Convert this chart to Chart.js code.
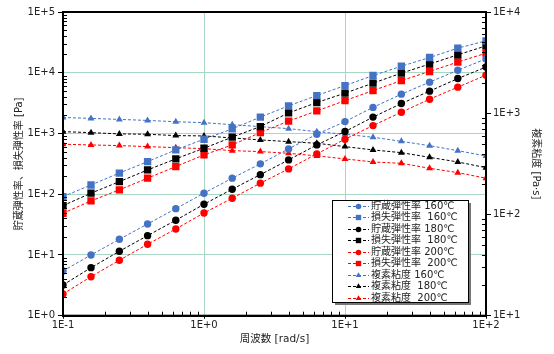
<!DOCTYPE html>
<html>
<head>
<meta charset="utf-8">
<script src="https://cdn.jsdelivr.net/npm/chart.js@4/dist/chart.umd.min.js"></script>
<style>
  body { margin: 0; background: #fff; }
  #wrap { width: 554px; height: 354px; }
</style>
</head>
<body>
<div id="wrap"><canvas id="c"></canvas></div>
<script>
// 周波数 [rad/s]
const freq = [0.1, 0.158, 0.251, 0.398, 0.631, 1, 1.585, 2.51, 3.98, 6.31, 10, 15.8, 25.1, 39.8, 63.1, 100];

// 貯蔵弾性率 G' [Pa]
const gp160 = [5.45, 10.0, 18.1, 32.4, 57.9, 104, 184, 316, 557, 973, 1570, 2690, 4440, 7000, 11000, 16900];
const gp180 = [3.2, 6.18, 11.5, 20.8, 37.3, 68.4, 121, 210, 367, 648, 1075, 1860, 3110, 4980, 8020, 12400];
const gp200 = [2.28, 4.39, 8.18, 15.0, 26.8, 49.2, 85.9, 152, 261, 461, 805, 1349, 2240, 3670, 5790, 9120];

// 損失弾性率 G'' [Pa]
const gpp160 = [91.3, 142, 223, 344, 537, 805, 1190, 1860, 2850, 4210, 6150, 8990, 12800, 17800, 25400, 33500];
const gpp180 = [64.9, 104, 161, 251, 382, 572, 869, 1300, 2180, 3230, 4610, 6740, 9840, 13900, 19700, 27700];
const gpp200 = [48.6, 77.6, 118, 184, 285, 444, 648, 1035, 1600, 2350, 3480, 5090, 7430, 10500, 15000, 21000];

// 複素粘度 [Pa·s]
const eta160 = [908, 889, 869, 849, 824, 807, 771, 737, 704, 658, 620, 579, 528, 478, 427, 378];
const eta180 = [658, 643, 625, 620, 601, 597, 570, 545, 524, 505, 468, 434, 408, 367, 330, 290];
const eta200 = [494, 486, 479, 468, 457, 447, 427, 418, 402, 379, 354, 330, 320, 286, 259, 228];

const xTicks = [0.1, 1, 10, 100];
const yTicks = [1, 10, 100, 1000, 10000, 100000];
const y2Ticks = [10, 100, 1000, 10000];

const BLUE = '#4472c4', BLACK = '#000000', RED = '#ff0000';
const GRID = '#a8d8c4';
const FONT = 'DejaVu Sans, "Noto Sans CJK JP", sans-serif';

function pts(ys) {
    return freq.map((x, i) => ({ x: x, y: ys[i] }));
}

function series(label, ys, color, shape, axis) {
    const r = shape === 'rect' ? 5.2 : (shape === 'triangle' ? 4 : 3.7);
    return {
        label: label,
        data: pts(ys),
        yAxisID: axis,
        borderColor: color,
        backgroundColor: color,
        borderWidth: 1,
        borderDash: [3, 2],
        pointStyle: shape,
        pointRadius: r,
        pointHoverRadius: r,
        pointBorderWidth: 0,
        legendShape: shape
    };
}

const datasets = [
    series('貯蔵弾性率 160℃', gp160, BLUE, 'circle', 'y'),
    series('損失弾性率  160℃', gpp160, BLUE, 'rect', 'y'),
    series('貯蔵弾性率 180℃', gp180, BLACK, 'circle', 'y'),
    series('損失弾性率  180℃', gpp180, BLACK, 'rect', 'y'),
    series('貯蔵弾性率 200℃', gp200, RED, 'circle', 'y'),
    series('損失弾性率  200℃', gpp200, RED, 'rect', 'y'),
    series('複素粘度 160℃', eta160, BLUE, 'triangle', 'y2'),
    series('複素粘度  180℃', eta180, BLACK, 'triangle', 'y2'),
    series('複素粘度  200℃', eta200, RED, 'triangle', 'y2')
];

function expLabel(v) {
    const e = Math.round(Math.log10(v));
    return '1E' + (e < 0 ? '-' : '+') + Math.abs(e);
}

function setTicks(list) {
    return scale => { scale.ticks = list.map(v => ({ value: v })); };
}

// 枠線と補助目盛り
const framePlugin = {
    id: 'frame',
    afterDatasetsDraw(chart) {
        const ctx = chart.ctx;
        const a = chart.chartArea;
        const sx = chart.scales.x, sy = chart.scales.y, sy2 = chart.scales.y2;
        ctx.save();
        ctx.strokeStyle = '#000';
        ctx.lineWidth = 1;
        ctx.beginPath();
        for (let d = 0.1; d < 100; d *= 10) {
            for (let k = 2; k <= 9; k++) {
                const px = Math.round(sx.getPixelForValue(d * k)) + 0.5;
                ctx.moveTo(px, a.bottom);
                ctx.lineTo(px, a.bottom - 4);
            }
        }
        for (let d = 1; d < 100000; d *= 10) {
            for (let k = 2; k <= 9; k++) {
                const py = Math.round(sy.getPixelForValue(d * k)) + 0.5;
                ctx.moveTo(a.left, py);
                ctx.lineTo(a.left + 4, py);
            }
        }
        for (let d = 10; d < 10000; d *= 10) {
            for (let k = 2; k <= 9; k++) {
                const py = Math.round(sy2.getPixelForValue(d * k)) + 0.5;
                ctx.moveTo(a.right, py);
                ctx.lineTo(a.right - 4, py);
            }
        }
        ctx.stroke();
        ctx.lineWidth = 2;
        ctx.strokeRect(a.left, a.top, a.right - a.left, a.bottom - a.top);
        ctx.restore();
    }
};

// 凡例（グラフ内）
const legendBox = {
    id: 'legendBox',
    afterDraw(chart) {
        const ctx = chart.ctx;
        const x0 = 332, y0 = 200, w = 136, h = 102;
        ctx.save();
        ctx.fillStyle = '#777';
        ctx.fillRect(x0 + 3, y0 + 3, w, h);
        ctx.fillStyle = '#fff';
        ctx.fillRect(x0, y0, w, h);
        ctx.strokeStyle = '#000';
        ctx.lineWidth = 1;
        ctx.strokeRect(x0 + 0.5, y0 + 0.5, w, h);
        ctx.font = '10px ' + FONT;
        ctx.textBaseline = 'middle';
        chart.data.datasets.forEach((ds, i) => {
            const y = Math.round(y0 + 6 + i * 11.45) + 0.5;
            ctx.strokeStyle = ds.borderColor;
            ctx.setLineDash([3, 2]);
            ctx.beginPath();
            ctx.moveTo(348, y);
            ctx.lineTo(369, y);
            ctx.stroke();
            ctx.setLineDash([]);
            ctx.fillStyle = ds.borderColor;
            const r = ds.legendShape === 'rect' ? 3.8 : (ds.legendShape === 'triangle' ? 3.2 : 2.8);
            Chart.helpers.drawPoint(ctx, { pointStyle: ds.legendShape, radius: r, borderWidth: 0 }, 358.5, y);
            ctx.fillStyle = '#222';
            ctx.fillText(ds.label, 371, y);
        });
        ctx.restore();
    }
};

Chart.defaults.font.family = FONT;
Chart.defaults.color = '#222';

new Chart(document.getElementById('c'), {
    type: 'line',
    data: { datasets: datasets },
    options: {
        responsive: true,
        maintainAspectRatio: false,
        animation: false,
        layout: { padding: { top: 12, left: 0, right: 0, bottom: 0 } },
        plugins: {
            legend: { display: false },
            tooltip: { enabled: false }
        },
        scales: {
            x: {
                type: 'logarithmic',
                min: 0.1,
                max: 100,
                afterBuildTicks: setTicks(xTicks),
                afterFit: s => { s.height = 38.3; },
                grid: { color: GRID, tickColor: '#000', tickLength: 3 },
                border: { color: '#000', width: 2 },
                ticks: { callback: v => expLabel(v), font: { size: 10 }, padding: 1, maxRotation: 0 },
                title: { display: true, text: '周波数 [rad/s]', font: { size: 10.5 }, padding: { top: 0, bottom: 8 } }
            },
            y: {
                type: 'logarithmic',
                position: 'left',
                min: 1,
                max: 100000,
                afterBuildTicks: setTicks(yTicks),
                afterFit: s => { s.width = 63; },
                grid: { color: GRID, tickColor: '#000', tickLength: 5 },
                border: { color: '#000', width: 2 },
                ticks: { callback: v => expLabel(v), font: { size: 10 }, padding: 3 },
                title: { display: true, text: '貯蔵弾性率、損失弾性率 [Pa]', font: { size: 10 }, padding: { top: 13, bottom: 0 } }
            },
            y2: {
                type: 'logarithmic',
                position: 'right',
                min: 10,
                max: 10000,
                afterBuildTicks: setTicks(y2Ticks),
                afterFit: s => { s.width = 68; },
                grid: { drawOnChartArea: false, tickColor: '#000', tickLength: 5 },
                border: { color: '#000', width: 2 },
                ticks: { callback: v => expLabel(v), font: { size: 10 }, padding: 2 },
                title: { display: true, text: '複素粘度 [Pa·s]', font: { size: 10 }, padding: { top: 12, bottom: 0 } }
            }
        }
    },
    plugins: [framePlugin, legendBox]
});
</script>
</body>
</html>
